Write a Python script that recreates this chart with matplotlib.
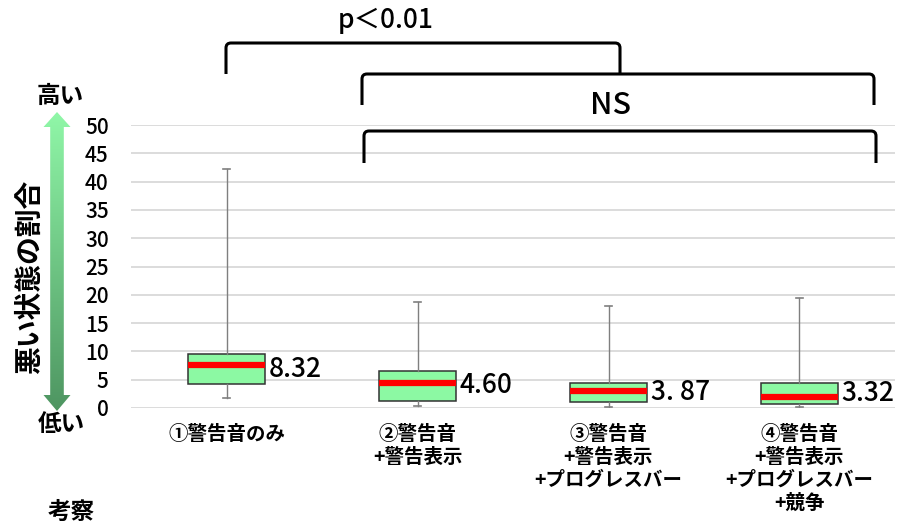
import numpy as np
import matplotlib
matplotlib.use('Agg')
import matplotlib.pyplot as plt
from matplotlib.path import Path
from matplotlib.patches import PathPatch, Polygon
from matplotlib.colors import LinearSegmentedColormap

plt.rcParams['font.family'] = ['Noto Sans CJK JP', 'DejaVu Sans']

# data
categories = ['①警告音のみ',
              '②警告音\n+警告表示',
              '③警告音\n+警告表示\n+プログレスバー',
              '④警告音\n+警告表示\n+プログレスバー\n+競争']
whis_low = [1.8, 0.4, 0.1, 0.1]
q1 = [4.2, 1.25, 1.0, 0.75]
median = [7.6, 4.4, 3.05, 2.0]
q3 = [9.5, 6.6, 4.45, 4.35]
whis_high = [42.2, 18.7, 18.1, 19.5]
mean_labels = ['8.32', '4.60', '3. 87', '3.32']
yticks = np.arange(0, 51, 5)

W, H = 904, 523
fig = plt.figure(figsize=(W / 100, H / 100), dpi=100)
ax = fig.add_axes([131 / W, (H - 408) / H, (895 - 131) / W, (408 - 125) / H])

stats = []
for lo, a, m, b, hi in zip(whis_low, q1, median, q3, whis_high):
    stats.append(dict(whislo=lo, q1=a, med=m, q3=b, whishi=hi, fliers=[]))

ax.bxp(stats, positions=range(len(stats)), widths=0.4, patch_artist=True,
       showfliers=False, capwidths=0.04, manage_ticks=False,
       boxprops=dict(facecolor='#8cf9a3', edgecolor='#333333', linewidth=1.1),
       medianprops=dict(color='#ff0000', linewidth=4.5),
       whiskerprops=dict(color='#7f7f7f', linewidth=1),
       capprops=dict(color='#7f7f7f', linewidth=1.2))

for i, lab in enumerate(mean_labels):
    ax.text(i + 0.22, (q1[i] + q3[i]) / 2, lab, ha='left', va='center',
            fontsize=19, fontweight='medium')

ax.set_xlim(-0.5, 3.5)
ax.set_ylim(0, 50)
ax.set_yticks(yticks)
ax.set_yticklabels([str(t) for t in yticks], fontsize=15, fontweight='medium')
ax.set_xticks(range(len(categories)))
ax.set_xticklabels(categories, fontsize=14, fontweight='bold', linespacing=1.25)
ax.tick_params(axis='y', length=0, pad=16)
ax.tick_params(axis='x', length=0, pad=12)
for s in ax.spines.values():
    s.set_visible(False)
ax.set_axisbelow(True)
ax.grid(axis='y', color='#d9d9d9', linewidth=1.3)

# overlay in pixel coordinates for the annotations
ov = fig.add_axes([0, 0, 1, 1])
ov.axis('off')

# gradient double arrow
cx, hw, sw = 57, 13.5, 6.8
pts = [(cx, 112), (cx + hw, 127), (cx + sw, 127), (cx + sw, 395), (cx + hw, 395),
       (cx, 411), (cx - hw, 395), (cx - sw, 395), (cx - sw, 127), (cx - hw, 127)]
arrow = Polygon(pts, closed=True, facecolor='none', edgecolor='none')
ov.add_patch(arrow)
cmap = LinearSegmentedColormap.from_list('g', ['#90f7a8', '#4e9561'])
grad = np.linspace(0, 1, 256).reshape(-1, 1)
im = ov.imshow(grad, cmap=cmap, extent=(40, 74, 411, 112), aspect='auto', origin='upper')
im.set_clip_path(arrow)


def bracket(x0, x1, ytop, ybot, r=5):
    verts = [(x0, ybot), (x0, ytop + r), (x0, ytop), (x0 + r, ytop),
             (x1 - r, ytop), (x1, ytop), (x1, ytop + r), (x1, ybot)]
    codes = [Path.MOVETO, Path.LINETO, Path.CURVE3, Path.CURVE3,
             Path.LINETO, Path.CURVE3, Path.CURVE3, Path.LINETO]
    ov.add_patch(PathPatch(Path(verts, codes), fill=False, edgecolor='black',
                           linewidth=2.2, capstyle='butt'))


bracket(226, 620, 43, 74)
bracket(362, 874, 74, 105)
bracket(364, 876, 131, 163)

ov.text(386, 21, 'p＜0.01', ha='center', va='center', fontsize=19, fontweight='medium')
ov.text(611, 105, 'NS', ha='center', va='center', fontsize=22, fontweight='medium')
ov.text(60, 96, '高い', ha='center', va='center', fontsize=17, fontweight='bold')
ov.text(61, 424, '低い', ha='center', va='center', fontsize=17, fontweight='bold')
ov.text(30, 277, '悪い状態の割合', ha='center', va='center', rotation=90,
        fontsize=20, fontweight='bold')
ov.text(71, 512, '考察', ha='center', va='center', fontsize=17, fontweight='bold')

ov.set_xlim(0, W)
ov.set_ylim(H, 0)

fig.savefig('out.png', dpi=100)
